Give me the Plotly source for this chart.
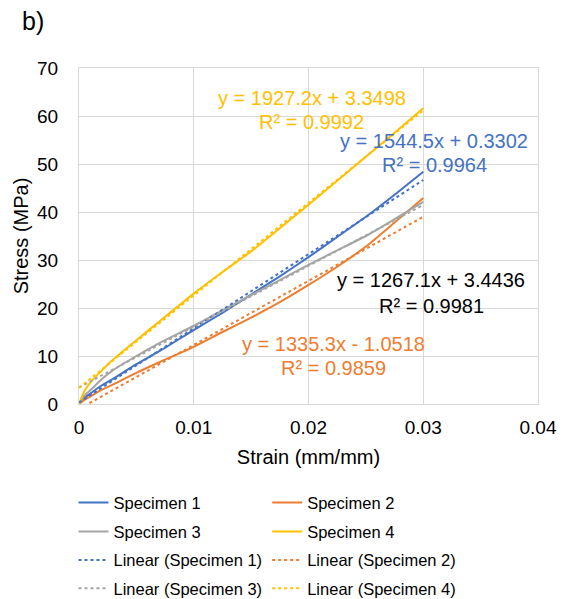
import plotly.graph_objects as go

# ---------------- data ----------------
strain = [0, 0.0005, 0.001, 0.002, 0.003, 0.005, 0.007, 0.01, 0.0125,
          0.015, 0.0175, 0.02, 0.0225, 0.025, 0.0275, 0.03]

specimen1 = [0, 1.3, 2.2, 3.9, 5.3, 8.3, 11.0, 15.4, 19.0, 22.8, 26.6, 30.6,
             34.8, 39.0, 43.6, 48.4]
specimen2 = [0, 0.9, 1.6, 3.0, 4.1, 6.5, 8.7, 11.9, 15.0, 18.0, 21.2, 24.8,
             28.6, 32.8, 37.8, 42.9]
specimen3 = [0, 1.8, 2.9, 5.2, 7.1, 10.0, 12.7, 16.3, 19.5, 22.7, 25.8, 29.0,
             32.0, 35.0, 38.5, 42.1]
specimen4 = [0, 2.8, 4.5, 7.0, 9.3, 13.3, 17.2, 23.0, 27.5, 31.8, 36.6, 41.5,
             46.5, 51.5, 56.5, 61.6]

names = ["Specimen 1", "Specimen 2", "Specimen 3", "Specimen 4"]
series = [specimen1, specimen2, specimen3, specimen4]

# trendline equations printed on the chart
slopes = [1544.5, 1335.3, 1267.1, 1927.2]
intercepts = [0.3302, -1.0518, 3.4436, 3.3498]
r2 = ["0.9964", "0.9859", "0.9981", "0.9992"]
eq_text = ["y = 1544.5x + 0.3302", "y = 1335.3x - 1.0518",
           "y = 1267.1x + 3.4436", "y = 1927.2x + 3.3498"]

x_ticks = [0, 0.01, 0.02, 0.03, 0.04]
x_tick_text = ["0", "0.01", "0.02", "0.03", "0.04"]
y_ticks = [0, 10, 20, 30, 40, 50, 60, 70]

# ---------------- styles ----------------
colors = ["#4472C4", "#ED7D31", "#A5A5A5", "#FFC000"]
label_colors = ["#4472C4", "#ED7D31", "#000000", "#FFC000"]
# label positions (data coords): (x, y_line1, y_line2)
label_pos = [(0.03095, 54.7, 49.7), (0.0222, 12.55, 7.5),
             (0.0307, 25.85, 20.5), (0.0203, 63.7, 58.7)]

FONT = "Liberation Sans, Arial, sans-serif"
legend_names = ["legend", "legend", "legend2", "legend2"]
trend_legend_names = ["legend3", "legend3", "legend4", "legend4"]

fig = go.Figure()

for i in range(4):
    fig.add_trace(go.Scatter(
        x=strain, y=series[i], mode="lines", name=names[i],
        line=dict(color=colors[i], width=2, shape="spline", smoothing=0.6),
        legend=legend_names[i]))

xmin, xmax = min(strain), max(strain)
for i in range(4):
    fig.add_trace(go.Scatter(
        x=[xmin, xmax],
        y=[slopes[i] * xmin + intercepts[i], slopes[i] * xmax + intercepts[i]],
        mode="lines", name="Linear (" + names[i] + ")",
        line=dict(color=colors[i], width=2, dash="dot"),
        legend=trend_legend_names[i]))

annotations = []
for i in range(4):
    x, y1, y2 = label_pos[i]
    annotations.append(dict(x=x, y=y1, xref="x", yref="y", text=eq_text[i],
                            showarrow=False, xanchor="center", yanchor="middle",
                            font=dict(family=FONT, size=20, color=label_colors[i])))
    annotations.append(dict(x=x, y=y2, xref="x", yref="y", text="R² = " + r2[i],
                            showarrow=False, xanchor="center", yanchor="middle",
                            font=dict(family=FONT, size=20, color=label_colors[i])))

annotations.append(dict(x=-0.128, y=1.14, xref="paper", yref="paper", text="b)",
                        showarrow=False, xanchor="left", yanchor="middle",
                        font=dict(family=FONT, size=25, color="#000000")))

legend_common = dict(orientation="h", x=-0.012, xanchor="left", yanchor="middle",
                     entrywidth=148.7, entrywidthmode="pixels",
                     bgcolor="rgba(0,0,0,0)", borderwidth=0,
                     font=dict(family=FONT, size=16.5, color="#000000"))

fig.update_layout(
    width=563, height=599,
    margin=dict(l=79, r=25, t=68, b=195, autoexpand=False),
    paper_bgcolor="white", plot_bgcolor="white",
    font=dict(family=FONT, color="#000000"),
    annotations=annotations,
    legend=dict(y=-0.294, **legend_common),
    legend2=dict(y=-0.380, **legend_common),
    legend3=dict(y=-0.465, **legend_common),
    legend4=dict(y=-0.549, **legend_common),
    xaxis=dict(range=[0, 0.04], tickvals=x_ticks, ticktext=x_tick_text,
               showgrid=True, gridcolor="#D9D9D9", gridwidth=1,
               showline=True, linecolor="#D9D9D9", linewidth=1, mirror=True,
               zeroline=False, ticks="", ticklabelstandoff=6,
               tickfont=dict(family=FONT, size=19, color="#000000"),
               title=dict(text="Strain (mm/mm)", standoff=13,
                          font=dict(family=FONT, size=20, color="#000000"))),
    yaxis=dict(range=[0, 70], tickvals=y_ticks,
               showgrid=True, gridcolor="#D9D9D9", gridwidth=1,
               showline=True, linecolor="#D9D9D9", linewidth=1, mirror=True,
               zeroline=False, ticks="", ticklabelstandoff=16,
               tickfont=dict(family=FONT, size=19, color="#000000"),
               title=dict(text="Stress (MPa)", standoff=3,
                          font=dict(family=FONT, size=20, color="#000000"))),
    showlegend=True,
)

fig.write_html("out.html")
